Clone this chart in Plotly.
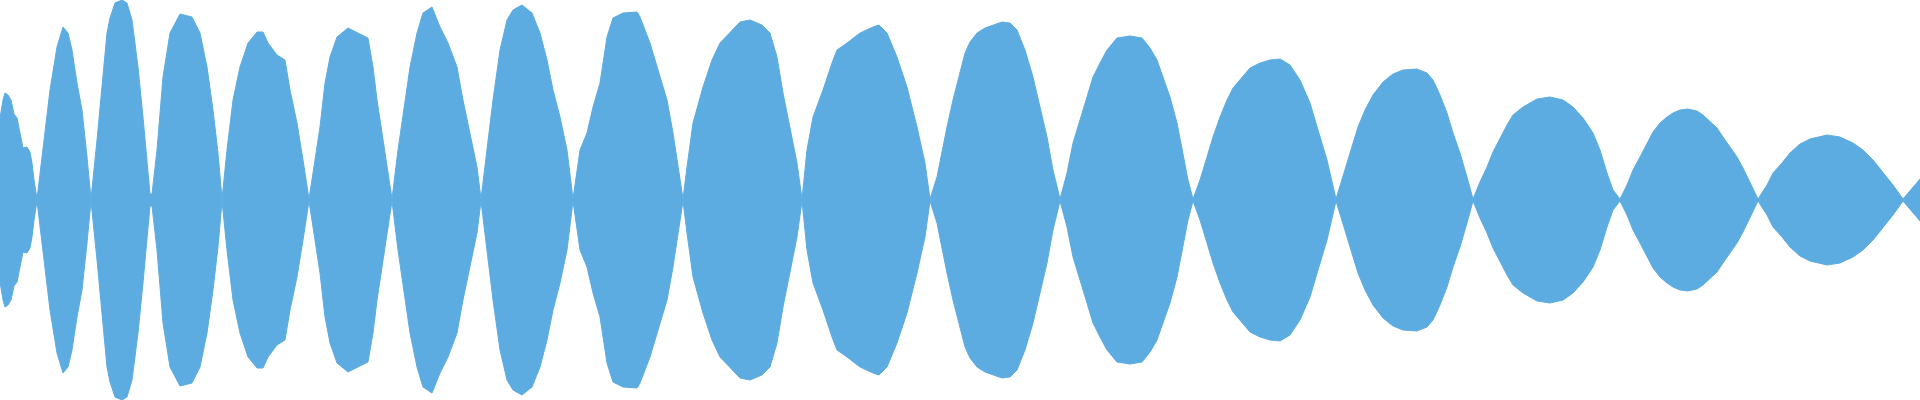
import plotly.graph_objects as go

# Waveform envelope: sample position and amplitude
sample = [
    0, 3, 5, 8, 11, 14, 17, 20, 23, 27, 30, 32, 34, 37,
    43, 50, 57, 63, 68, 72, 77, 82, 87, 91,
    97, 102, 107, 110, 115, 122, 127, 132, 138, 143, 148, 150, 152,
    157, 163, 170, 180, 192, 200, 207, 213, 218, 222,
    227, 233, 240, 248, 257, 263, 268, 277, 285, 290, 297, 303, 309,
    315, 319, 320, 325, 330, 337, 348, 358, 368, 373, 377, 382, 387, 392,
    398, 403, 410, 417, 423, 432, 440, 448, 457, 463, 470, 477, 481,
    487, 493, 500, 507, 513, 522, 532, 540, 547, 553, 560, 567, 573,
    580, 587, 593, 600, 607, 613, 623, 637, 640, 650, 658, 667, 673, 678, 683,
    687, 693, 703, 712, 720, 730, 740, 750, 762, 770, 777, 783, 790, 797, 802,
    807, 813, 823, 832, 837, 847, 860, 873, 879, 887, 897, 907, 917, 925, 930,
    937, 942, 947, 953, 958, 960, 965, 970, 977, 985, 993, 1002, 1010, 1017, 1025,
    1033, 1040, 1047, 1053, 1060,
    1067, 1073, 1080, 1087, 1093, 1100, 1107, 1117, 1130, 1142, 1150, 1157, 1163,
    1170, 1177, 1183, 1188, 1193,
    1200, 1207, 1213, 1220, 1227, 1233, 1242, 1250, 1260, 1270, 1280, 1290, 1300,
    1310, 1318, 1327, 1336,
    1342, 1347, 1352, 1358, 1365, 1373, 1383, 1393, 1403, 1417, 1427, 1433, 1440,
    1447, 1453, 1460, 1467, 1473,
    1480, 1487, 1493, 1500, 1507, 1513, 1523, 1537, 1550, 1563, 1573, 1583, 1593,
    1600, 1607, 1613, 1620,
    1627, 1633, 1640, 1647, 1653, 1660, 1667, 1673, 1680, 1688, 1697, 1703, 1710,
    1717, 1723, 1730, 1737, 1743, 1750, 1758,
    1767, 1773, 1782, 1790, 1800, 1810, 1827, 1840, 1853, 1863, 1873, 1883, 1893,
    1903,
    1920,
]
amplitude = [
    82, 100, 107, 105, 100, 86, 82, 67, 52, 53, 48, 37, 20, 1,
    50, 110, 153, 173, 167, 150, 117, 90, 43, 1,
    60, 117, 167, 182, 197, 200, 197, 180, 133, 83, 33, 6, 6,
    50, 123, 167, 186, 183, 167, 133, 90, 47, 1,
    50, 100, 133, 157, 168, 168, 157, 145, 140, 110, 77, 40, 1,
    40, 63, 73, 117, 143, 163, 172, 167, 162, 133, 100, 67, 33, 1,
    50, 83, 133, 167, 187, 193, 173, 157, 133, 100, 67, 33, 1,
    50, 100, 150, 180, 190, 195, 187, 167, 140, 110, 83, 50, 1,
    50, 67, 93, 117, 163, 182, 187, 188, 183, 157, 130, 100, 67, 33, 1,
    33, 77, 113, 140, 157, 167, 178, 180, 175, 167, 143, 107, 73, 37, 1,
    50, 83, 110, 137, 150, 157, 167, 173, 175, 167, 143, 113, 73, 37, 1,
    23, 50, 73, 100, 120, 127, 147, 158, 167, 172, 175, 178, 177, 170, 150,
    123, 93, 63, 30, 1,
    27, 57, 80, 103, 123, 137, 150, 162, 164, 162, 152, 140, 123,
    103, 77, 47, 20, 1,
    20, 43, 63, 83, 100, 112, 123, 132, 137, 140, 141, 135, 120,
    97, 70, 40, 1,
    20, 37, 53, 73, 90, 105, 118, 126, 130, 131, 127, 120, 105,
    87, 67, 47, 23, 1,
    18, 33, 48, 62, 75, 85, 93, 101, 103, 100, 93, 82, 67,
    50, 27, 10, 1,
    15, 30, 43, 57, 68, 77, 83, 87, 90, 91, 89, 85, 78,
    72, 63, 53, 43, 32, 18, 1,
    15, 27, 37, 47, 56, 61, 65, 63, 57, 50, 40, 28, 15,
    1,
    21,
]

upper = amplitude
lower = [-a for a in amplitude]
colour = "#5DACE1"

fig = go.Figure()
fig.add_trace(go.Scatter(x=sample, y=lower, mode="lines",
                         line=dict(color=colour, width=1), hoverinfo="skip",
                         showlegend=False))
fig.add_trace(go.Scatter(x=sample, y=upper, mode="lines", fill="tonexty",
                         fillcolor=colour, line=dict(color=colour, width=1),
                         showlegend=False))

fig.update_layout(
    width=1920, height=400,
    margin=dict(l=0, r=0, t=0, b=0, pad=0),
    paper_bgcolor="white", plot_bgcolor="white",
    xaxis=dict(range=[0, 1920], visible=False, fixedrange=True),
    yaxis=dict(range=[-200, 200], visible=False, fixedrange=True),
)
fig.write_html(
    "out.html",
    config={"displayModeBar": False},
    post_script="document.body.style.margin='0';"
                "document.body.style.overflow='hidden';"
                "document.documentElement.style.overflow='hidden';",
)
